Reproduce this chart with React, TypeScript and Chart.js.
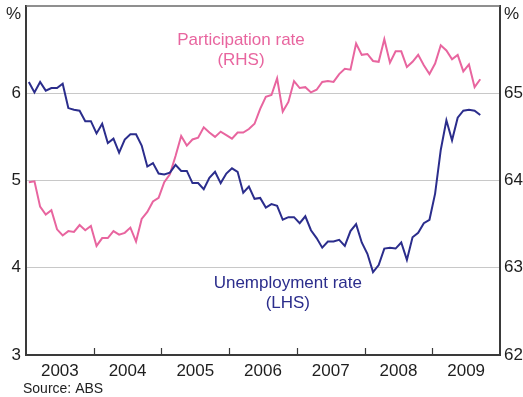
import React, { useEffect, useRef } from 'react';
import { Chart, registerables } from 'chart.js';

Chart.register(...registerables);

// Monthly data, Jan 2003 – Sep 2009
const yearLabels = ['2003', '2004', '2005', '2006', '2007', '2008', '2009'];

const unemployment = [
  6.13, 6.01, 6.13, 6.03, 6.06, 6.06, 6.11, 5.83, 5.81, 5.80, 5.68, 5.68,
  5.54, 5.65, 5.43, 5.48, 5.32, 5.47, 5.53, 5.53, 5.40, 5.16, 5.20, 5.08,
  5.07, 5.09, 5.18, 5.11, 5.11, 4.97, 4.97, 4.90, 5.03, 5.10, 4.97, 5.08,
  5.14, 5.10, 4.86, 4.93, 4.79, 4.80, 4.69, 4.73, 4.71, 4.55, 4.58, 4.58,
  4.51, 4.59, 4.43, 4.34, 4.23, 4.30, 4.30, 4.32, 4.25, 4.42, 4.50, 4.29,
  4.16, 3.95, 4.03, 4.22, 4.23, 4.22, 4.29, 4.09, 4.35, 4.40, 4.51, 4.55,
  4.85, 5.35, 5.69, 5.46, 5.72, 5.80, 5.81, 5.80, 5.75,
];

const participation = [
  63.98, 63.99, 63.70, 63.61, 63.66, 63.44, 63.37, 63.42, 63.41, 63.49, 63.43, 63.48,
  63.25, 63.34, 63.34, 63.42, 63.38, 63.40, 63.46, 63.30, 63.56, 63.64, 63.76, 63.80,
  63.98, 64.07, 64.28, 64.51, 64.40, 64.47, 64.49, 64.61, 64.55, 64.50, 64.56, 64.52,
  64.48, 64.55, 64.55, 64.59, 64.65, 64.82, 64.96, 64.98, 65.17, 64.79, 64.90, 65.14,
  65.06, 65.07, 65.01, 65.04, 65.13, 65.14, 65.13, 65.22, 65.28, 65.27, 65.57, 65.44,
  65.45, 65.37, 65.36, 65.62, 65.35, 65.48, 65.48, 65.30, 65.36, 65.44, 65.32, 65.22,
  65.34, 65.55, 65.49, 65.39, 65.44, 65.25, 65.33, 65.07, 65.16,
];

const leftTicks = [3, 4, 5, 6];
const rightTicks = [62, 63, 64, 65];
const unitLabel = '%';
const sourceText = 'Source: ABS';

const PINK = '#e8659f';
const BLUE = '#2b2d8c';
const GRID = '#c8c8c8';
const AXIS = '#3a3a3a';
const TEXT = '#1e1e1e';
const FONT = 'Arial, "Liberation Sans", sans-serif';

const monthsPerYear = 12;
const totalMonths = yearLabels.length * monthsPerYear;

const annotations = [
  { lines: ['Participation rate', '(RHS)'], x: 38.1, y: 6.61, color: PINK },
  { lines: ['Unemployment rate', '(LHS)'], x: 46.4, y: 3.825, color: BLUE },
];

const decorPlugin = {
  id: 'decor',
  afterDatasetsDraw(chart: any) {
    const { ctx, chartArea, scales } = chart;
    const xs = scales.x;
    const ys = scales.y;
    ctx.save();
    // top frame line
    ctx.strokeStyle = '#6a6a6a';
    ctx.lineWidth = 1.5;
    ctx.beginPath();
    ctx.moveTo(chartArea.left, chartArea.top);
    ctx.lineTo(chartArea.right, chartArea.top);
    ctx.stroke();
    // inner tick marks at year boundaries
    ctx.strokeStyle = AXIS;
    ctx.lineWidth = 1.2;
    for (let k = 1; k < yearLabels.length; k++) {
      const px = Math.round(xs.getPixelForValue(k * monthsPerYear)) + 0.5;
      ctx.beginPath();
      ctx.moveTo(px, chartArea.bottom);
      ctx.lineTo(px, chartArea.bottom - 7);
      ctx.stroke();
    }
    // annotations
    ctx.font = `17px ${FONT}`;
    ctx.textAlign = 'center';
    ctx.textBaseline = 'middle';
    for (const a of annotations) {
      const px = xs.getPixelForValue(a.x);
      const py = ys.getPixelForValue(a.y);
      ctx.fillStyle = a.color;
      a.lines.forEach((t, i) => ctx.fillText(t, px, py + i * 20.5));
    }
    // source
    ctx.font = `14px ${FONT}`;
    ctx.textAlign = 'left';
    ctx.fillStyle = TEXT;
    ctx.fillText(sourceText, 23, 389);
    ctx.restore();
  },
};

const zeroPad = (s: any) => {
  s.paddingTop = 0;
  s.paddingBottom = 0;
  s.paddingLeft = 0;
  s.paddingRight = 0;
};

export default function App() {
  const ref = useRef<HTMLCanvasElement>(null);
  useEffect(() => {
    if (!ref.current) return;
    const pctPos = leftTicks[leftTicks.length - 1] + 0.9;
    const pctPosR = rightTicks[rightTicks.length - 1] + 0.9;
    const chart = new Chart(ref.current, {
      type: 'line',
      data: {
        datasets: [
          {
            label: 'Unemployment rate (LHS)',
            data: unemployment.map((v, i) => ({ x: i + 0.5, y: v })),
            borderColor: BLUE,
            borderWidth: 2,
            pointRadius: 0,
            tension: 0,
            yAxisID: 'y',
          },
          {
            label: 'Participation rate (RHS)',
            data: participation.map((v, i) => ({ x: i + 0.5, y: v })),
            borderColor: PINK,
            borderWidth: 2,
            pointRadius: 0,
            tension: 0,
            yAxisID: 'y2',
          },
        ],
      },
      options: {
        animation: false,
        responsive: false,
        maintainAspectRatio: false,
        layout: { padding: { top: 6, left: 0, right: 0, bottom: 0 } },
        plugins: { legend: { display: false }, tooltip: { enabled: false } },
        scales: {
          x: {
            type: 'linear',
            min: 0,
            max: totalMonths,
            afterBuildTicks: (s: any) => {
              s.ticks = yearLabels.map((_, k) => ({ value: k * monthsPerYear + monthsPerYear / 2 }));
            },
            afterFit: (s: any) => { s.height = 42; zeroPad(s); },
            ticks: {
              autoSkip: false,
              maxRotation: 0,
              padding: 6,
              color: TEXT,
              font: { size: 17, family: FONT },
              callback: (v: any) => yearLabels[Math.floor(Number(v) / monthsPerYear)] ?? '',
            },
            grid: { display: true, color: 'transparent', drawTicks: false, drawOnChartArea: false },
            border: { display: true, color: AXIS, width: 2 },
          },
          y: {
            type: 'linear',
            position: 'left',
            min: leftTicks[0],
            max: leftTicks[leftTicks.length - 1] + 1,
            afterBuildTicks: (s: any) => {
              s.ticks = [...leftTicks, pctPos].map((v) => ({ value: v }));
            },
            afterFit: (s: any) => { s.width = 26; zeroPad(s); },
            ticks: {
              padding: 5,
              color: TEXT,
              font: { size: 17, family: FONT },
              callback: (v: any) => (Number(v) === pctPos ? unitLabel : String(v)),
            },
            grid: {
              drawTicks: false,
              color: (c: any) =>
                c.tick && c.tick.value !== pctPos && c.tick.value !== leftTicks[0] ? GRID : 'transparent',
              lineWidth: 1,
            },
            border: { display: true, color: AXIS, width: 2 },
          },
          y2: {
            type: 'linear',
            position: 'right',
            min: rightTicks[0],
            max: rightTicks[rightTicks.length - 1] + 1,
            afterBuildTicks: (s: any) => {
              s.ticks = [...rightTicks, pctPosR].map((v) => ({ value: v }));
            },
            afterFit: (s: any) => { s.width = 23; zeroPad(s); },
            ticks: {
              padding: 4,
              color: TEXT,
              font: { size: 17, family: FONT },
              callback: (v: any) => (Math.abs(Number(v) - pctPosR) < 1e-6 ? unitLabel : String(v)),
            },
            grid: { drawTicks: false, drawOnChartArea: false, color: 'transparent' },
            border: { display: true, color: AXIS, width: 2 },
          },
        },
      },
      plugins: [decorPlugin],
    } as any);
    return () => chart.destroy();
  }, []);

  return (
    <div style={{ position: 'fixed', left: 0, top: 0, width: 523, height: 397, background: '#fff' }}>
      <canvas ref={ref} width={523} height={397} style={{ display: 'block', width: 523, height: 397 }} />
    </div>
  );
}
